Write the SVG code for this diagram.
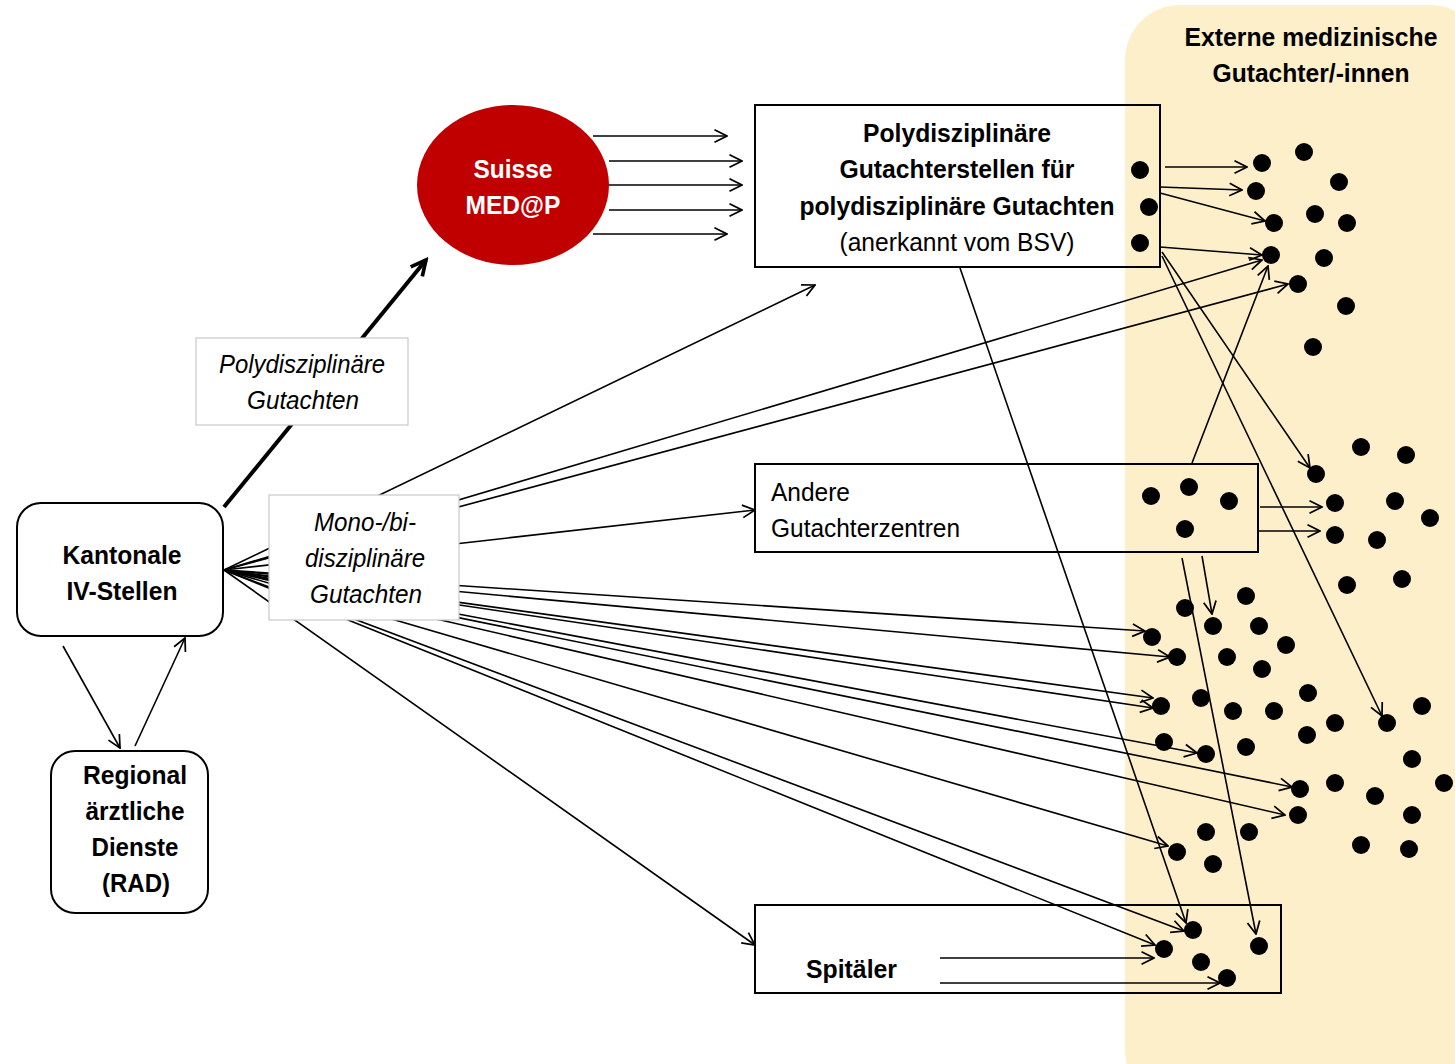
<svg xmlns="http://www.w3.org/2000/svg" width="1455" height="1064" viewBox="0 0 1455 1064">
<style>
text{font-family:"Liberation Sans",Arial,sans-serif;font-size:26px;fill:#000}
.b{font-weight:bold}
.i{font-style:italic}
.c{text-anchor:middle}
.w{fill:#fff}
.box{fill:none;stroke:#000;stroke-width:2}
.rbox{fill:#fff;stroke:#000;stroke-width:2}
.lab{fill:#fff;stroke:#c8c8c8;stroke-width:1.2}
.ln{stroke:#000;stroke-width:1.6;fill:none;marker-end:url(#a)}
.dot{fill:#000}
</style>
<defs>
<marker id="a" viewBox="0 0 12 12" refX="11" refY="6" markerWidth="15" markerHeight="15" markerUnits="userSpaceOnUse" orient="auto"><path d="M1,1 L11,6 L1,11" fill="none" stroke="#000" stroke-width="1.4"/></marker>
<marker id="t" viewBox="0 0 12 12" refX="10" refY="6" markerWidth="20" markerHeight="20" markerUnits="userSpaceOnUse" orient="auto"><path d="M1,1.5 L10,6 L1,10.5" fill="none" stroke="#000" stroke-width="2.2"/></marker>
</defs>
<rect width="1455" height="1064" fill="#fff"/>
<rect id="panel" x="1125" y="5" width="360" height="1100" rx="55" fill="#FEEFCB"/>
<g id="connectors">
<line x1="224" y1="507" x2="426" y2="260" stroke="#000" stroke-width="4" marker-end="url(#t)"/>
<line class="ln" x1="224" y1="570" x2="815" y2="285"/>
<line class="ln" x1="224" y1="570" x2="1262" y2="260"/>
<line class="ln" x1="224" y1="570" x2="1288" y2="284"/>
<line class="ln" x1="224" y1="570" x2="755" y2="510"/>
<line class="ln" x1="224" y1="570" x2="1145" y2="631"/>
<line class="ln" x1="224" y1="570" x2="1170" y2="657"/>
<line class="ln" x1="224" y1="570" x2="1153" y2="698"/>
<line class="ln" x1="224" y1="570" x2="1153" y2="708"/>
<line class="ln" x1="224" y1="570" x2="1197" y2="753"/>
<line class="ln" x1="224" y1="570" x2="1292" y2="787"/>
<line class="ln" x1="224" y1="570" x2="1285" y2="815"/>
<line class="ln" x1="224" y1="570" x2="1168" y2="846"/>
<line class="ln" x1="224" y1="570" x2="1155" y2="945"/>
<line class="ln" x1="224" y1="570" x2="1184" y2="931"/>
<line class="ln" x1="224" y1="570" x2="755" y2="945"/>
<line class="ln" x1="593" y1="136" x2="727" y2="136"/>
<line class="ln" x1="609" y1="161" x2="742" y2="161"/>
<line class="ln" x1="609" y1="185" x2="742" y2="185"/>
<line class="ln" x1="609" y1="210" x2="742" y2="210"/>
<line class="ln" x1="593" y1="234" x2="727" y2="234"/>
<line class="ln" x1="1165" y1="167" x2="1247" y2="167"/>
<line class="ln" x1="1160" y1="187" x2="1242" y2="190"/>
<line class="ln" x1="1160" y1="193" x2="1265" y2="221"/>
<line class="ln" x1="1160" y1="247" x2="1262" y2="255"/>
<line class="ln" x1="1162" y1="252" x2="1310" y2="468"/>
<line class="ln" x1="1162" y1="256" x2="1382" y2="716"/>
<line class="ln" x1="960" y1="268" x2="1186" y2="923"/>
<line class="ln" x1="1192" y1="463" x2="1268" y2="266"/>
<line class="ln" x1="1260" y1="507" x2="1322" y2="507"/>
<line class="ln" x1="1258" y1="531" x2="1320" y2="531"/>
<line class="ln" x1="1202" y1="556" x2="1212" y2="614"/>
<line class="ln" x1="1182" y1="558" x2="1256" y2="934"/>
<line class="ln" x1="940" y1="958" x2="1154" y2="958"/>
<line class="ln" x1="940" y1="983" x2="1220" y2="983"/>
<line class="ln" x1="63" y1="646" x2="120" y2="748"/>
<line class="ln" x1="135" y1="746" x2="185" y2="638"/>
</g>
<g id="label-poly">
<rect class="lab" x="196" y="338" width="212" height="87"/>
<text class="i c" x="302" y="373" textLength="166" lengthAdjust="spacingAndGlyphs">Polydisziplinäre</text>
<text class="i c" x="303" y="409" textLength="112" lengthAdjust="spacingAndGlyphs">Gutachten</text>
</g>
<g id="label-mono">
<rect class="lab" x="269" y="495" width="190" height="125"/>
<text class="i c" x="365" y="531" textLength="102" lengthAdjust="spacingAndGlyphs">Mono-/bi-</text>
<text class="i c" x="365" y="567" textLength="120" lengthAdjust="spacingAndGlyphs">disziplinäre</text>
<text class="i c" x="366" y="603" textLength="112" lengthAdjust="spacingAndGlyphs">Gutachten</text>
</g>
<g id="title">
<text class="b c" x="1311" y="46" textLength="253" lengthAdjust="spacingAndGlyphs">Externe medizinische</text>
<text class="b c" x="1311" y="82" textLength="197" lengthAdjust="spacingAndGlyphs">Gutachter/-innen</text>
</g>
<g id="suisse">
<ellipse cx="513" cy="185" rx="96" ry="80" fill="#C00000"/>
<text class="b c w" x="513" y="178" textLength="79" lengthAdjust="spacingAndGlyphs">Suisse</text>
<text class="b c w" x="513" y="214" textLength="95" lengthAdjust="spacingAndGlyphs">MED@P</text>
</g>
<g id="polystellen">
<rect class="box" x="755" y="105" width="405" height="162"/>
<text class="b c" x="957" y="142" textLength="188" lengthAdjust="spacingAndGlyphs">Polydisziplinäre</text>
<text class="b c" x="957" y="178" textLength="235" lengthAdjust="spacingAndGlyphs">Gutachterstellen für</text>
<text class="b c" x="957" y="215" textLength="315" lengthAdjust="spacingAndGlyphs">polydisziplinäre Gutachten</text>
<text class="c" x="957" y="251" textLength="235" lengthAdjust="spacingAndGlyphs">(anerkannt vom BSV)</text>
</g>
<g id="andere">
<rect class="box" x="755" y="464" width="503" height="88"/>
<text x="771" y="501" textLength="79" lengthAdjust="spacingAndGlyphs">Andere</text>
<text x="771" y="537" textLength="189" lengthAdjust="spacingAndGlyphs">Gutachterzentren</text>
</g>
<g id="spitaeler">
<rect class="box" x="755" y="905" width="526" height="88"/>
<text class="b" x="806" y="978" textLength="91" lengthAdjust="spacingAndGlyphs">Spitäler</text>
</g>
<g id="kantonale">
<rect class="box" x="17" y="503" width="206" height="133" rx="24"/>
<text class="b c" x="122" y="564" textLength="119" lengthAdjust="spacingAndGlyphs">Kantonale</text>
<text class="b c" x="122" y="600" textLength="111" lengthAdjust="spacingAndGlyphs">IV-Stellen</text>
</g>
<g id="rad">
<rect class="box" x="51" y="751" width="157" height="162" rx="24"/>
<text class="b c" x="135" y="784" textLength="104" lengthAdjust="spacingAndGlyphs">Regional</text>
<text class="b c" x="135" y="820" textLength="99" lengthAdjust="spacingAndGlyphs">ärztliche</text>
<text class="b c" x="135" y="856" textLength="87" lengthAdjust="spacingAndGlyphs">Dienste</text>
<text class="b c" x="136" y="892" textLength="68" lengthAdjust="spacingAndGlyphs">(RAD)</text>
</g>
<g id="dots">
<circle class="dot" cx="1140" cy="170" r="9"/><circle class="dot" cx="1149" cy="207" r="9"/><circle class="dot" cx="1140" cy="243" r="9"/>
<circle class="dot" cx="1262" cy="163" r="9"/><circle class="dot" cx="1304" cy="152" r="9"/><circle class="dot" cx="1339" cy="182" r="9"/>
<circle class="dot" cx="1256" cy="191" r="9"/><circle class="dot" cx="1274" cy="223" r="9"/><circle class="dot" cx="1315" cy="214" r="9"/>
<circle class="dot" cx="1347" cy="223" r="9"/><circle class="dot" cx="1271" cy="255" r="9"/><circle class="dot" cx="1324" cy="258" r="9"/>
<circle class="dot" cx="1298" cy="284" r="9"/><circle class="dot" cx="1346" cy="306" r="9"/><circle class="dot" cx="1313" cy="347" r="9"/>
<circle class="dot" cx="1151" cy="496" r="9"/><circle class="dot" cx="1189" cy="487" r="9"/><circle class="dot" cx="1229" cy="501" r="9"/><circle class="dot" cx="1185" cy="529" r="9"/>
<circle class="dot" cx="1361" cy="447" r="9"/><circle class="dot" cx="1406" cy="455" r="9"/><circle class="dot" cx="1316" cy="474" r="9"/>
<circle class="dot" cx="1335" cy="503" r="9"/><circle class="dot" cx="1395" cy="501" r="9"/><circle class="dot" cx="1430" cy="518" r="9"/>
<circle class="dot" cx="1335" cy="535" r="9"/><circle class="dot" cx="1377" cy="540" r="9"/><circle class="dot" cx="1347" cy="585" r="9"/>
<circle class="dot" cx="1402" cy="579" r="9"/><circle class="dot" cx="1246" cy="596" r="9"/><circle class="dot" cx="1185" cy="608" r="9"/>
<circle class="dot" cx="1213" cy="626" r="9"/><circle class="dot" cx="1259" cy="626" r="9"/><circle class="dot" cx="1152" cy="637" r="9"/>
<circle class="dot" cx="1286" cy="645" r="9"/><circle class="dot" cx="1177" cy="657" r="9"/><circle class="dot" cx="1227" cy="657" r="9"/>
<circle class="dot" cx="1262" cy="669" r="9"/><circle class="dot" cx="1308" cy="693" r="9"/><circle class="dot" cx="1201" cy="698" r="9"/>
<circle class="dot" cx="1161" cy="706" r="9"/><circle class="dot" cx="1233" cy="711" r="9"/><circle class="dot" cx="1274" cy="711" r="9"/>
<circle class="dot" cx="1422" cy="706" r="9"/><circle class="dot" cx="1335" cy="723" r="9"/><circle class="dot" cx="1387" cy="723" r="9"/>
<circle class="dot" cx="1307" cy="735" r="9"/><circle class="dot" cx="1164" cy="742" r="9"/><circle class="dot" cx="1206" cy="754" r="9"/>
<circle class="dot" cx="1246" cy="747" r="9"/><circle class="dot" cx="1412" cy="759" r="9"/><circle class="dot" cx="1300" cy="789" r="9"/>
<circle class="dot" cx="1335" cy="783" r="9"/><circle class="dot" cx="1375" cy="796" r="9"/><circle class="dot" cx="1444" cy="783" r="9"/>
<circle class="dot" cx="1412" cy="815" r="9"/><circle class="dot" cx="1298" cy="815" r="9"/><circle class="dot" cx="1206" cy="832" r="9"/>
<circle class="dot" cx="1249" cy="832" r="9"/><circle class="dot" cx="1177" cy="852" r="9"/><circle class="dot" cx="1361" cy="845" r="9"/>
<circle class="dot" cx="1409" cy="849" r="9"/><circle class="dot" cx="1213" cy="864" r="9"/>
<circle class="dot" cx="1164" cy="949" r="9"/><circle class="dot" cx="1193" cy="930" r="9"/><circle class="dot" cx="1201" cy="962" r="9"/>
<circle class="dot" cx="1227" cy="978" r="9"/><circle class="dot" cx="1259" cy="946" r="9"/>
</g>
</svg>
